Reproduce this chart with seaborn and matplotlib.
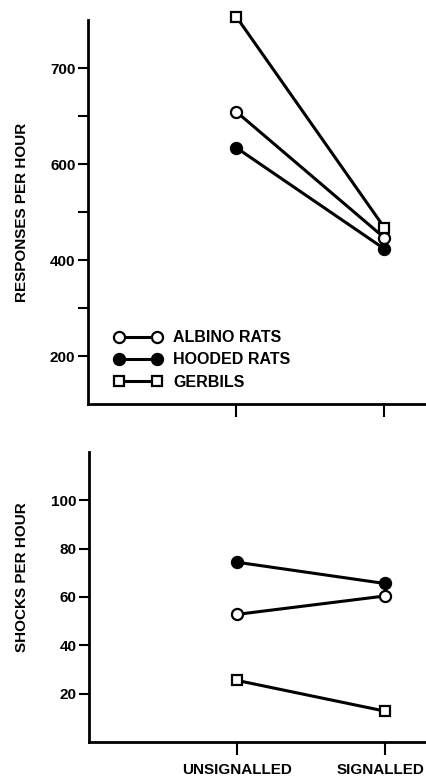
import matplotlib
matplotlib.use("Agg")
import matplotlib.pyplot as plt
import matplotlib.transforms as mtransforms
import seaborn as sns
import pandas as pd
from matplotlib.ticker import FixedLocator
from matplotlib.lines import Line2D

sns.set_theme(style="ticks")
plt.rcParams['font.family'] = ['DejaVu Sans Condensed', 'Liberation Sans Narrow', 'Liberation Sans', 'DejaVu Sans']
plt.rcParams['font.weight'] = 'bold'
plt.rcParams['text.color'] = 'black'
plt.rcParams['axes.labelcolor'] = 'black'
plt.rcParams['xtick.color'] = 'black'
plt.rcParams['ytick.color'] = 'black'

conditions = ["UNSIGNALLED", "SIGNALLED"]
groups = ["ALBINO RATS", "HOODED RATS", "GERBILS"]
responses_albino = [709, 446]
responses_hooded = [634, 423]
responses_gerbils = [907, 467]
shocks_albino = [52.8, 60.4]
shocks_hooded = [74.4, 65.6]
shocks_gerbils = [25.5, 12.8]
resp_tick_vals = [200, 400, 600, 800]
resp_tick_labels = ["200", "400", "600", "700"]
resp_minor = [300, 500, 700]
shock_ticks = [20, 40, 60, 80, 100]

styles = {
    "ALBINO RATS": dict(marker="o", markerfacecolor="white", markersize=8),
    "HOODED RATS": dict(marker="o", markerfacecolor="black", markersize=8),
    "GERBILS": dict(marker="s", markerfacecolor="white", markersize=6.5),
}

fig = plt.figure(figsize=(4.26, 7.77), dpi=100)
ax1 = fig.add_axes([88/426, 1-404/777, 1-88/426, (404-20)/777])
ax2 = fig.add_axes([89/426, 1-742/777, 1-89/426, (742-452)/777])

resp = {"ALBINO RATS": responses_albino, "HOODED RATS": responses_hooded, "GERBILS": responses_gerbils}
shock = {"ALBINO RATS": shocks_albino, "HOODED RATS": shocks_hooded, "GERBILS": shocks_gerbils}

for ax, data in ((ax1, resp), (ax2, shock)):
    for g in groups:
        df = pd.DataFrame({"cond": conditions, "val": data[g]})
        sns.lineplot(data=df, x="cond", y="val", ax=ax, color="black", lw=2.2,
                     markeredgecolor="black", markeredgewidth=1.6, clip_on=False,
                     zorder=3, **styles[g])
    for s in ("top", "right"):
        ax.spines[s].set_visible(False)
    for s in ("left", "bottom"):
        ax.spines[s].set_linewidth(2)
        ax.spines[s].set_color("black")
    ax.set_xlim(-1.0, 1.28)
    ax.set_xlabel("")
    ax.tick_params(axis="both", which="both", color="black", width=1.5, length=7,
                   labelsize=11, labelcolor="black", pad=2)
    ax.tick_params(axis="x", length=9, pad=6)

ax1.set_ylim(100, 900)
ax1.yaxis.set_major_locator(FixedLocator(resp_tick_vals))
ax1.set_yticklabels(resp_tick_labels)
ax1.yaxis.set_minor_locator(FixedLocator(resp_minor))
ax1.tick_params(axis="y", which="minor", length=7, width=1.5)
ax1.set_xticks([0, 1])
ax1.set_xticklabels([])
ax1.set_ylabel("RESPONSES PER HOUR", fontsize=11, fontweight="bold")
ax1.yaxis.set_label_coords(-0.175, 0.5)

ax2.set_ylim(0, 120)
ax2.set_yticks(shock_ticks)
ax2.set_xticks([0, 1])
ax2.set_xticklabels(conditions, fontsize=11, fontweight="bold")
ax2.set_ylabel("SHOCKS PER HOUR", fontsize=11, fontweight="bold")
ax2.yaxis.set_label_coords(-0.178, 0.57)

# nudge the right-hand label so it stays inside the figure
xlabs = ax2.get_xticklabels()
xlabs[1].set_transform(xlabs[1].get_transform() +
                       mtransforms.ScaledTranslation(-4/100, 0, fig.dpi_scale_trans))

for lab in ax1.get_yticklabels() + ax2.get_yticklabels():
    lab.set_fontweight("bold")

handles = [Line2D([], [], color="black", lw=2.2, markeredgecolor="black",
                  markeredgewidth=1.6, **styles[g]) for g in groups]
leg = ax1.legend(handles, groups, loc="lower left", bbox_to_anchor=(0.035, 0.0),
                 frameon=False, numpoints=2, handlelength=3.0, handletextpad=0.7,
                 labelspacing=0.45, prop=dict(size=11.5, weight="bold"))

fig.savefig("out.png", dpi=100)
